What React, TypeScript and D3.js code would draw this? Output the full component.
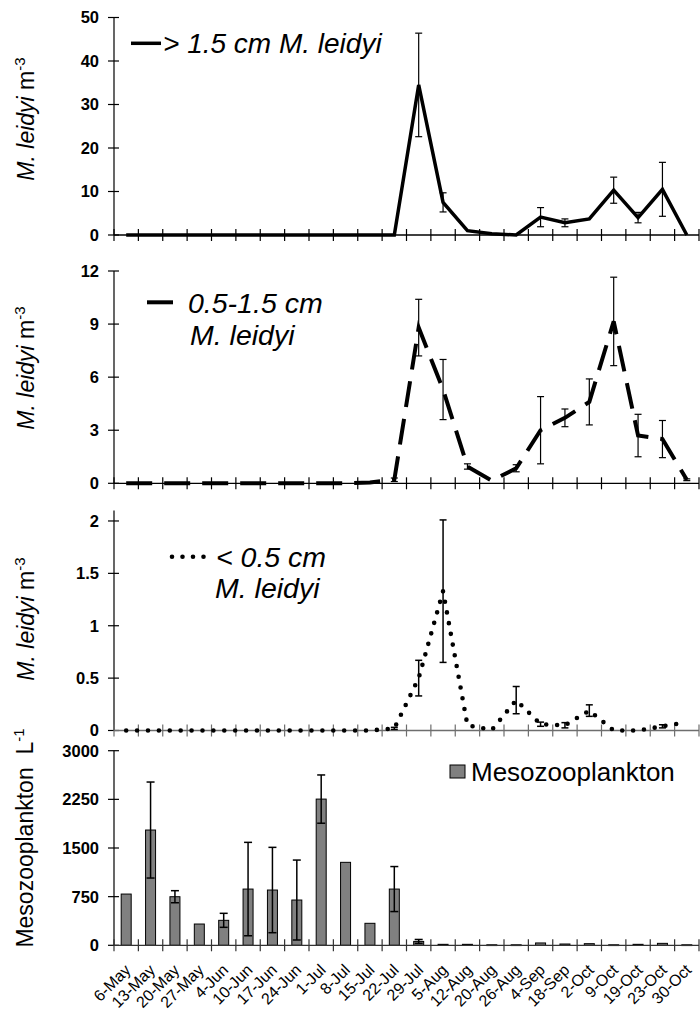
import React from 'react';
import * as d3 from 'd3';

const dates = ['6-May','13-May','20-May','27-May','4-Jun','10-Jun','17-Jun','24-Jun','1-Jul','8-Jul','15-Jul','22-Jul','29-Jul','5-Aug','12-Aug','20-Aug','26-Aug','4-Sep','18-Sep','2-Oct','9-Oct','19-Oct','23-Oct','30-Oct'];

const large = [0,0,0,0,0,0,0,0,0,0,0,0,34.5,7.5,1.0,0.3,0,4.1,2.8,3.7,10.3,4.0,10.5,0];
const largeErr = [0,0,0,0,0,0,0,0,0,0,0,0,11.9,2.2,0,0,0,2.2,0.9,0,3.0,1.2,6.2,0];

const medium = [0,0,0,0,0,0,0,0,0,0,0.05,0.2,8.8,5.3,0.95,0.15,0.85,3.0,3.7,4.6,9.15,2.7,2.5,0.2];
const mediumErr = [0,0,0,0,0,0,0,0,0,0,0,0.1,1.6,1.7,0.15,0,0.2,1.9,0.5,1.3,2.5,1.2,1.05,0.05];

const small = [0,0,0,0,0,0,0,0,0,0,0,0.02,0.5,1.33,0.05,0.005,0.29,0.06,0.05,0.19,0,0,0.04,0.08];
const smallErr = [0,0,0,0,0,0,0,0,0,0,0,0.01,0.17,0.68,0,0,0.13,0.02,0.025,0.055,0,0,0.015,0];

const meso = [790,1777,749,328,385,867,852,698,2254,1279,339,867,60,15,15,8,8,36,20,25,8,15,30,8];
const mesoErr = [0,740,93,0,108,720,658,616,372,0,0,347,30,0,0,0,0,0,0,0,0,0,0,0];

const largeTicks = [0,10,20,30,40,50];
const mediumTicks = [0,3,6,9,12];
const smallTicks = [0,0.5,1,1.5,2];
const mesoTicks = [0,750,1500,2250,3000];

const FONT = 'Liberation Sans, Arial, Helvetica, sans-serif';

const x = d3.scaleBand<string>().domain(dates).range([114, 699]).paddingInner(0).paddingOuter(0);
const cx = (d: string) => (x(d) as number) + x.bandwidth() / 2;

function YAxis({ y, ticks }: { y: d3.ScaleLinear<number, number>; ticks: number[] }) {
  const [r0, r1] = y.range();
  return (
    <g>
      <line x1={114} x2={114} y1={r1} y2={r0} stroke="#000" strokeWidth={1.2} />
      {ticks.map((t) => (
        <g key={t}>
          <line x1={108} x2={119} y1={y(t)} y2={y(t)} stroke="#000" strokeWidth={1.2} />
          <text x={99} y={y(t)} dy="0.36em" textAnchor="end" fontFamily={FONT} fontWeight="bold" fontSize={16.5} fill="#000">
            {String(t)}
          </text>
        </g>
      ))}
    </g>
  );
}

function XAxis({ y0, color }: { y0: number; color: string }) {
  const bounds = dates.map((d) => x(d) as number).concat([x.range()[1]]);
  return (
    <g>
      <line x1={114} x2={699} y1={y0} y2={y0} stroke={color} strokeWidth={1.3} />
      {bounds.map((b, i) => (
        <line key={i} x1={b} x2={b} y1={y0 - 6} y2={y0 + 6} stroke={color} strokeWidth={1.2} />
      ))}
    </g>
  );
}

function ErrorBars({ vals, errs, y, cap, sw }: { vals: number[]; errs: number[]; y: d3.ScaleLinear<number, number>; cap: number; sw: number }) {
  return (
    <g stroke="#000" strokeWidth={sw}>
      {dates.map((d, i) => {
        const e = errs[i];
        if (!e) return null;
        const xc = cx(d);
        const yt = y(vals[i] + e);
        const yb = y(Math.max(0, vals[i] - e));
        return (
          <g key={d}>
            <line x1={xc} x2={xc} y1={yt} y2={yb} />
            <line x1={xc - cap / 2} x2={xc + cap / 2} y1={yt} y2={yt} />
            <line x1={xc - cap / 2} x2={xc + cap / 2} y1={yb} y2={yb} />
          </g>
        );
      })}
    </g>
  );
}

function YLabel({ cxPos, cy, main, unit, sup, italicMain }: { cxPos: number; cy: number; main: string; unit: string; sup: string; italicMain: boolean }) {
  return (
    <text transform={`translate(${cxPos},${cy}) rotate(-90)`} textAnchor="middle" fontFamily={FONT} fontSize={23} fill="#000">
      <tspan fontStyle={italicMain ? 'italic' : 'normal'}>{main}</tspan>
      <tspan>{'\u00a0' + unit}</tspan>
      <tspan fontSize={15} dy={-9}>{sup}</tspan>
    </text>
  );
}

export default function App() {
  const y1 = d3.scaleLinear().domain([0, 50]).range([235, 17.5]);
  const y2 = d3.scaleLinear().domain([0, 12]).range([483.3, 271]);
  const y3 = d3.scaleLinear().domain([0, 2.1]).range([730.5, 510.5]);
  const y4 = d3.scaleLinear().domain([0, 3000]).range([945.3, 750.7]);

  const line = (y: d3.ScaleLinear<number, number>) =>
    d3.line<number>().x((_, i) => cx(dates[i])).y((v) => y(v));

  const barW = 10;

  return (
    <svg width={700} height={1013} style={{ position: 'absolute', left: 0, top: 0, background: '#fff' }}>
      <rect x={0} y={0} width={700} height={1013} fill="#fff" />

      {/* Panel 1 */}
      <YAxis y={y1} ticks={largeTicks} />
      <XAxis y0={y1(0)} color="#000" />
      <ErrorBars vals={large} errs={largeErr} y={y1} cap={7} sw={1.2} />
      <path d={line(y1)(large) || ''} fill="none" stroke="#000" strokeWidth={3.5} strokeLinejoin="miter" />
      <YLabel cxPos={33.5} cy={119} main="M. leidyi" unit="m" sup="-3" italicMain />
      <line x1={131} x2={161} y1={43.3} y2={43.3} stroke="#000" strokeWidth={3.5} />
      <text x={163} y={53} fontFamily={FONT} fontStyle="italic" fontSize={28} fill="#000">&gt; 1.5 cm M. leidyi</text>

      {/* Panel 2 */}
      <YAxis y={y2} ticks={mediumTicks} />
      <XAxis y0={y2(0)} color="#000" />
      <ErrorBars vals={medium} errs={mediumErr} y={y2} cap={7} sw={1.2} />
      <path d={line(y2)(medium) || ''} fill="none" stroke="#000" strokeWidth={4} strokeDasharray="26,12" />
      <YLabel cxPos={33.5} cy={368} main="M. leidyi" unit="m" sup="-3" italicMain />
      <line x1={147} x2={173} y1={302.3} y2={302.3} stroke="#000" strokeWidth={4} />
      <text x={188} y={313} fontFamily={FONT} fontStyle="italic" fontSize={28.5} fill="#000">0.5-1.5 cm</text>
      <text x={190} y={345} fontFamily={FONT} fontStyle="italic" fontSize={28.5} fill="#000">M. leidyi</text>

      {/* Panel 3 */}
      <YAxis y={y3} ticks={smallTicks} />
      <XAxis y0={y3(0)} color="#6e6e6e" />
      <ErrorBars vals={small} errs={smallErr} y={y3} cap={7} sw={1.5} />
      <path d={line(y3)(small) || ''} fill="none" stroke="#000" strokeWidth={4.6} strokeDasharray="0,10.9" strokeLinecap="round" />
      <YLabel cxPos={33.5} cy={619} main="M. leidyi" unit="m" sup="-3" italicMain />
      <line x1={172} x2={204} y1={556.7} y2={556.7} stroke="#000" strokeWidth={4.6} strokeDasharray="0,10.5" strokeLinecap="round" />
      <text x={216} y={567} fontFamily={FONT} fontStyle="italic" fontSize={28.5} fill="#000">&lt; 0.5 cm</text>
      <text x={215} y={598} fontFamily={FONT} fontStyle="italic" fontSize={28.5} fill="#000">M. leidyi</text>

      {/* Panel 4 */}
      <YAxis y={y4} ticks={mesoTicks} />
      <g>
        {dates.map((d, i) => (
          <rect key={d} x={cx(d) - barW / 2} y={y4(meso[i])} width={barW} height={Math.max(0.8, y4(0) - y4(meso[i]))} fill="#808080" stroke="#000" strokeWidth={1} />
        ))}
      </g>
      <XAxis y0={y4(0)} color="#333" />
      <ErrorBars vals={meso} errs={mesoErr} y={y4} cap={8} sw={1.5} />
      <YLabel cxPos={33} cy={838} main="Mesozooplankton" unit={'\u00a0L'} sup="-1" italicMain={false} />
      <rect x={450} y={765} width={15} height={13} fill="#808080" stroke="#000" strokeWidth={1} />
      <text x={471} y={780.5} fontFamily={FONT} fontSize={26} fill="#000">Mesozooplankton</text>

      {/* X labels */}
      {dates.map((d) => (
        <text key={d} transform={`translate(${cx(d) + 5.5},${971}) rotate(-45)`} textAnchor="end" fontFamily={FONT} fontSize={16} fill="#000">
          {d}
        </text>
      ))}
    </svg>
  );
}
